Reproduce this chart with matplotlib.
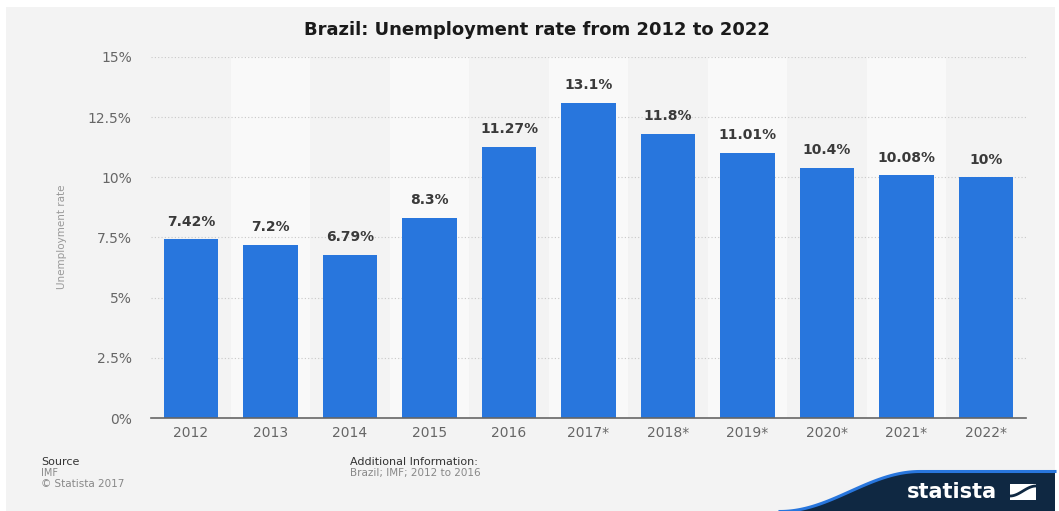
import matplotlib
matplotlib.use("Agg")
import matplotlib.pyplot as plt
import numpy as np
from matplotlib.patches import Polygon, Rectangle

years = ["2012", "2013", "2014", "2015", "2016", "2017*", "2018*",
         "2019*", "2020*", "2021*", "2022*"]
rates = [7.42, 7.2, 6.79, 8.3, 11.27, 13.1, 11.8, 11.01, 10.4, 10.08, 10.0]
labels = ["7.42%", "7.2%", "6.79%", "8.3%", "11.27%", "13.1%", "11.8%",
          "11.01%", "10.4%", "10.08%", "10%"]
yticks = [0, 2.5, 5, 7.5, 10, 12.5, 15]
ytick_labels = ["0%", "2.5%", "5%", "7.5%", "10%", "12.5%", "15%"]

W, H = 1059, 511
bg = "#f3f3f3"
bar_color = "#2876dd"
navy = "#0f2842"

fig = plt.figure(figsize=(W / 100, H / 100), dpi=100)
fig.patch.set_facecolor("white")
# gray card background (white border at top / sides)
fig.patches.append(Rectangle((6 / W, 0), (W - 10) / W, (H - 7) / H,
                             transform=fig.transFigure, facecolor=bg,
                             edgecolor="none", zorder=-10))

ax = fig.add_axes([151.25 / W, (H - 418) / H, 874.5 / W, 361 / H])
ax.set_facecolor("none")
x = np.arange(len(years))
ax.set_xlim(-0.5, len(years) - 0.5)
ax.set_ylim(0, 15)

# alternating column bands
for i in x:
    if i % 2 == 1:
        ax.axvspan(i - 0.5, i + 0.5, color="#f9f9f9", zorder=0, lw=0)

ax.set_yticks(yticks)
ax.set_yticklabels(ytick_labels)
ax.yaxis.grid(True, linestyle=(0, (1, 2)), color="#c8c8c8", linewidth=0.8)
ax.set_axisbelow(True)

ax.bar(x, rates, width=0.68, color=bar_color, zorder=2)
for xi, v, lab in zip(x, rates, labels):
    ax.text(xi, v + 0.45, lab, ha="center", va="bottom", fontsize=10,
            fontweight="bold", color="#3a3a3a")

ax.set_xticks(x)
ax.set_xticklabels(years)
ax.tick_params(axis="both", length=0, labelsize=10, labelcolor="#666666")
ax.tick_params(axis="x", pad=6)
ax.tick_params(axis="y", pad=14)
for side in ["top", "right", "left"]:
    ax.spines[side].set_visible(False)
ax.spines["bottom"].set_color("#666666")
ax.spines["bottom"].set_linewidth(1.2)

fig.text(62 / W, 1 - 237 / H, "Unemployment rate", rotation=90,
         ha="center", va="center", fontsize=7.5, color="#999999",
         family=["Liberation Sans Narrow", "DejaVu Sans"])

fig.text(537 / W, 1 - 30 / H, "Brazil: Unemployment rate from 2012 to 2022",
         ha="center", va="center", fontsize=13, fontweight="bold",
         color="#1a1a1a")

# footer
fig.text(41 / W, 1 - 462 / H, "Source", fontsize=8, color="#333333", va="center")
fig.text(41 / W, 1 - 473 / H, "IMF", fontsize=7, color="#888888", va="center")
fig.text(41 / W, 1 - 484 / H, "\u00a9 Statista 2017", fontsize=7.5,
         color="#888888", va="center")
fig.text(350 / W, 1 - 462 / H, "Additional Information:", fontsize=8,
         color="#333333", va="center")
fig.text(350 / W, 1 - 473 / H, "Brazil; IMF; 2012 to 2016", fontsize=7.5,
         color="#888888", va="center")

# statista wave
t = np.linspace(0, 1, 80)
wx = 780 + 140 * t
wy = 512 - 40 * (0.5 - 0.5 * np.cos(np.pi * t))
top_x = np.concatenate([wx, [W - 4]])
top_y = np.concatenate([wy, [472]])
poly = np.column_stack([np.concatenate([top_x, [W - 4, 780]]) / W,
                        1 - np.concatenate([top_y, [512, 512]]) / H])
fig.patches.append(Polygon(poly, closed=True, transform=fig.transFigure,
                           facecolor=navy, edgecolor="none", zorder=-5))
fig.lines.append(plt.Line2D(top_x / W, 1 - (top_y - 0.5) / H,
                            transform=fig.transFigure, color=bar_color,
                            linewidth=2.2, zorder=-4))
fig.text(952 / W, 1 - 492 / H, "statista", ha="center", va="center",
         fontsize=15, fontweight="bold", color="white")
fig.patches.append(Rectangle((1010 / W, 1 - 500 / H), 26 / W, 16 / H,
                             transform=fig.transFigure, facecolor="white",
                             edgecolor="none", zorder=-3))
sx = np.linspace(1010, 1036, 30)
sy = 496 - 10 * (0.5 - 0.5 * np.cos(np.pi * (sx - 1010) / 26))
fig.lines.append(plt.Line2D(sx / W, 1 - sy / H, transform=fig.transFigure,
                            color=navy, linewidth=2, zorder=-2))

fig.savefig("out.png", dpi=100, facecolor=fig.get_facecolor())
